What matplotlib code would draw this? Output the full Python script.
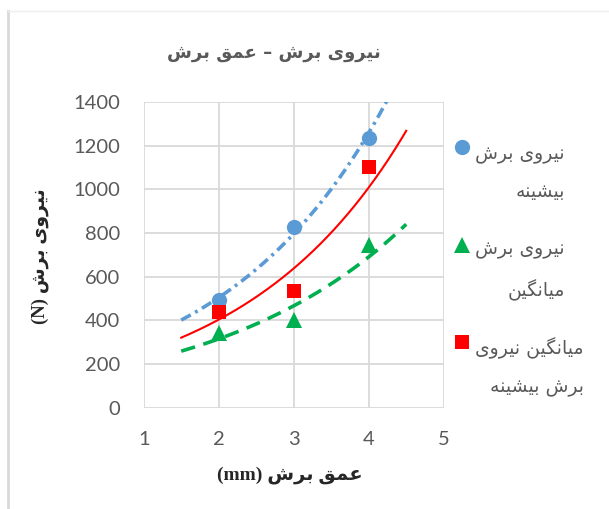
import numpy as np
import matplotlib
import matplotlib.pyplot as plt
from matplotlib.lines import Line2D

# data
depth = [2, 3, 4]
max_force = [495, 825, 1235]
mean_force = [340, 400, 745]
mean_max_force = [440, 535, 1100]

title_txt = "نیروی برش – عمق برش"
ylab_txt = "نیروی برش"
xlab_txt = "عمق برش"
leg_labels = [("نیروی برش", "بیشینه"),
              ("نیروی برش", "میانگین"),
              ("میانگین نیروی", "برش بیشینه")]

# simple arabic/persian shaping (matplotlib has no complex text layout)
FORMS = {
    "ا": ("\uFE8D", "\uFE8E", None, None),
    "ر": ("\uFEAD", "\uFEAE", None, None),
    "و": ("\uFEED", "\uFEEE", None, None),
    "ب": ("\uFE8F", "\uFE90", "\uFE91", "\uFE92"),
    "ش": ("\uFEB5", "\uFEB6", "\uFEB7", "\uFEB8"),
    "ع": ("\uFEC9", "\uFECA", "\uFECB", "\uFECC"),
    "م": ("\uFEE1", "\uFEE2", "\uFEE3", "\uFEE4"),
    "ق": ("\uFED5", "\uFED6", "\uFED7", "\uFED8"),
    "ن": ("\uFEE5", "\uFEE6", "\uFEE7", "\uFEE8"),
    "ه": ("\uFEE9", "\uFEEA", "\uFEEB", "\uFEEC"),
    "ی": ("\uFBFC", "\uFBFD", "\uFBFE", "\uFBFF"),
    "گ": ("\uFB92", "\uFB93", "\uFB94", "\uFB95"),
}


def dual(c):
    return c in FORMS and FORMS[c][2] is not None


def rtl(s):
    out = []
    for i, c in enumerate(s):
        if c not in FORMS:
            out.append(c)
            continue
        prev_j = i > 0 and dual(s[i - 1])
        next_j = dual(c) and i + 1 < len(s) and s[i + 1] in FORMS
        iso, fin, ini, med = FORMS[c]
        if prev_j and next_j:
            out.append(med)
        elif prev_j:
            out.append(fin)
        elif next_j:
            out.append(ini)
        else:
            out.append(iso)
    return "".join(out)[::-1]


grey = "#595959"
grid_c = "#d9d9d9"

fig = plt.figure(figsize=(6.09, 5.09), dpi=100)
ax = fig.add_axes((0.236, 0.199, 0.4926, 0.601))

x = np.array(depth, dtype=float)
xs = np.linspace(1.5, 4.5, 200)

series = [
    (max_force, "#5B9BD5", "o", 11, (3.0, 1.4, 0.8, 1.4), 2.6),
    (mean_force, "#00B050", "^", 11, (4.0, 2.4), 2.6),
    (mean_max_force, "#FF0000", "s", 10.5, None, 1.5),
]

handles = []
for vals, col, mk, ms, dash, lw in series:
    y = np.array(vals, dtype=float)
    # exponential trendline like excel
    b, a = np.polyfit(x, np.log(y), 1)
    ln, = ax.plot(xs, np.exp(a + b * xs), color=col, lw=lw, zorder=2)
    if dash is not None:
        ln.set_dashes(dash)
    ax.plot(x, y, linestyle="none", marker=mk, ms=ms, color=col,
            markeredgewidth=0, zorder=3)
    handles.append((mk, ms, col))

ax.set_xlim(1, 5)
ax.set_ylim(0, 1400)
ax.set_xticks([1, 2, 3, 4, 5])
ax.set_yticks(np.arange(0, 1401, 200))
ax.grid(True, color=grid_c, lw=1.3)
ax.set_axisbelow(True)
for sp in ax.spines.values():
    sp.set_visible(False)
ax.tick_params(length=0, labelsize=14.5, labelcolor=grey, pad=17)
for lab in ax.get_xticklabels() + ax.get_yticklabels():
    lab.set_family("Lato")

fig.text(0.45, 0.895, rtl(title_txt), ha="center", va="center",
         fontsize=13, fontweight="bold", color=grey, family="DejaVu Sans")
fig.text(0.066, 0.497, "(N) " + rtl(ylab_txt), rotation=90, ha="center",
         va="center", fontsize=13.5, fontweight="bold", color="#262626",
         family=["Liberation Serif", "DejaVu Sans"])
fig.text(0.476, 0.067, "(mm) " + rtl(xlab_txt), ha="center", va="center",
         fontsize=14, fontweight="bold", color="#262626",
         family=["Liberation Serif", "DejaVu Sans"])

# legend drawn by hand so the marker sits beside the first line
leg_top = 0.711
leg_step = 0.1915
for i, ((mk, ms, col), (l1, l2)) in enumerate(zip(handles, leg_labels)):
    yc = leg_top - i * leg_step
    fig.add_artist(Line2D([0.759], [yc], marker=mk, ms=ms, color=col,
                          markeredgewidth=0, linestyle="none"))
    fig.text(0.78, yc - 0.05, rtl(l1) + "\n" + rtl(l2), ha="left",
             va="center", multialignment="right", linespacing=2.2,
             fontsize=13.5, color=grey, family="DejaVu Sans")

# chart area border
fig.add_artist(Line2D([0.013, 0.013], [0.0, 0.979], color=grid_c, lw=2.0))
fig.add_artist(Line2D([0.013, 1.0], [0.979, 0.979], color="#eeeeee", lw=1.0))

fig.savefig("out.png", dpi=100)
